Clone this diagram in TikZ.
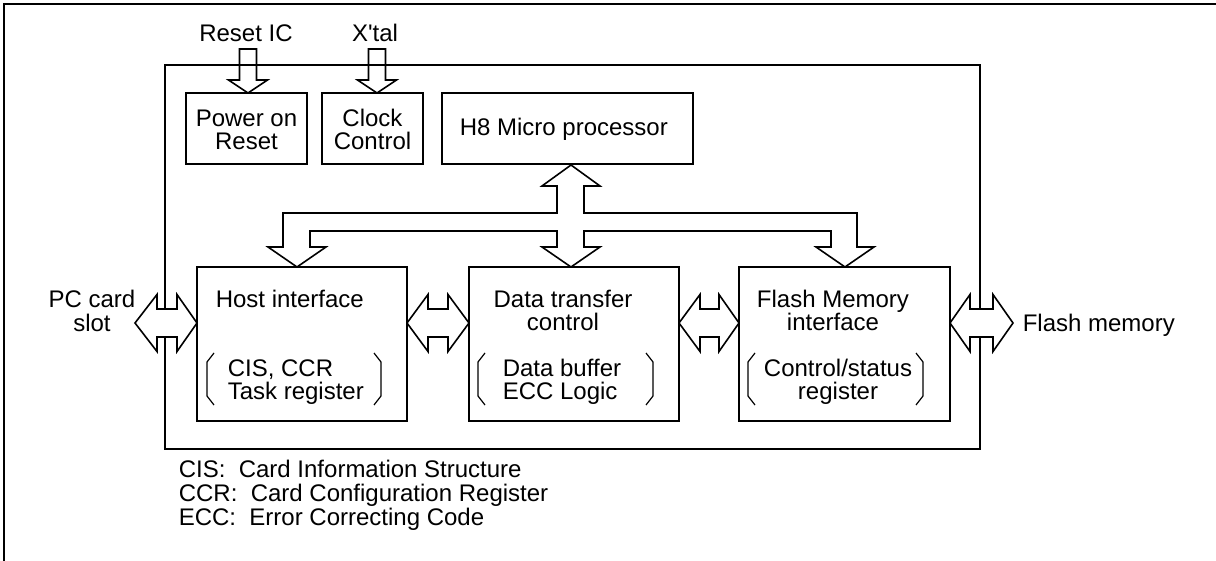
\documentclass[tikz,border=0pt]{standalone}
\usepackage{fontspec}
\setmainfont{Liberation Sans}
\usetikzlibrary{fit}
\newcommand\harrowshape[4]{% left tip, left base, right base, right tip
  \draw[blk] (#1,323) -- (#2,294.5) -- (#2,309) -- (#3,309) -- (#3,294.5) -- (#4,323)
     -- (#3,351.5) -- (#3,337) -- (#2,337) -- (#2,351.5) -- cycle;}
\newcommand\varrowshape[2]{% centre x, shaft top y
  \draw[barrow] (#1-8.5,#2) -- (#1+8.5,#2) -- (#1+8.5,80) -- (#1+19.5,80) -- (#1,93)
     -- (#1-19.5,80) -- (#1-8.5,80) -- cycle;}
\newcommand\brackets[4]{% left x, right x, top y, bottom y
  \draw[brk] (#1+7,#3) -- (#1,#3+9) -- (#1,#4-9) -- (#1+7,#4);
  \draw[brk] (#2-7,#3) -- (#2,#3+9) -- (#2,#4-9) -- (#2-7,#4);}
\begin{document}
\begin{tikzpicture}[x=0.5pt,y=-0.5pt,line width=0.8pt,line join=miter,
  box/.style={draw,inner sep=0pt,outer sep=0pt},
  blk/.style={draw,fill=white},
  barrow/.style={draw},
  brk/.style={draw,line width=0.6pt},
  lbl/.style={anchor=base,inner sep=0pt,font=\fontsize{12}{12}\selectfont},
  lblw/.style={lbl,anchor=base west}]
\useasboundingbox (0,0) rectangle (1216,561);
% outer frame
\draw (4,561) -- (4,4) -- (1216,4);
% chip frame
\node[box,fit={(165,65)(980,449)}] (chip) {};
% inner blocks
\node[box,fit={(186,93)(307,164)}] (por) {};
\node[box,fit={(322,93)(423,164)}] (clk) {};
\node[box,fit={(442,93)(693,164)}] (cpu) {};
\node[box,fit={(197,267)(407,421)}] (host) {};
\node[box,fit={(469,267)(679,421)}] (dtc) {};
\node[box,fit={(739,267)(950,421)}] (fmi) {};
% top input arrows
\varrowshape{248}{49}
\varrowshape{377}{49}
% internal bus
\draw[blk] (571,165) -- (600,186) -- (584,186) -- (584,213) -- (857,213) -- (857,247)
  -- (874,247) -- (845,267) -- (816,247) -- (831,247) -- (831,231) -- (584,231)
  -- (584,247) -- (600,247) -- (571,267) -- (542,247) -- (557,247) -- (557,231)
  -- (310,231) -- (310,247) -- (326,247) -- (297,267) -- (268,247) -- (283,247)
  -- (283,213) -- (557,213) -- (557,186) -- (542,186) -- cycle;
% horizontal double arrows
\harrowshape{135}{157}{177}{197}
\harrowshape{407}{428}{448}{469}
\harrowshape{679}{700}{719}{739}
\harrowshape{950}{970}{993}{1013}
% brackets
\brackets{207}{381}{353}{405}
\brackets{478}{653}{353}{405}
\brackets{748}{923}{353}{405}
% labels
\node[lbl] (lreset) at (246,42) {Reset IC};
\node[lbl] (lxtal) at (375,42) {X\textquotesingle tal};
\node[lbl] (tpor1) at (246.5,127) {Power on};
\node[lbl] (tpor2) at (246.5,150) {Reset};
\node[lbl] (tclk1) at (372.5,127) {Clock};
\node[lbl] (tclk2) at (372.5,150) {Control};
\node[lblw] (tcpu) at (459,136) {H8 Micro processor};
\node[lblw] (thost) at (215,307) {Host interface};
\node[lblw] (thost2) at (227,377) {CIS, CCR};
\node[lblw] (thost3) at (227,400) {Task register};
\node[lbl] (tdtc1) at (563,307) {Data transfer};
\node[lbl] (tdtc2) at (563,331) {control};
\node[lblw] (tdtc3) at (502,377) {Data buffer};
\node[lblw] (tdtc4) at (502,400) {ECC Logic};
\node[lbl] (tfmi1) at (833,307) {Flash Memory};
\node[lbl] (tfmi2) at (833,331) {interface};
\node[lbl] (tfmi3) at (838,377) {Control/status};
\node[lbl] (tfmi4) at (838,400) {register};
\node[lbl] (lpc1) at (92,308) {PC card};
\node[lbl] (lpc2) at (92,332) {slot};
\node[lblw] (lflash) at (1022,332) {Flash memory};
\node[lblw] (n1) at (178,477) {CIS:\ \ Card Information Structure};
\node[lblw] (n2) at (178,501) {CCR:\ \ Card Configuration Register};
\node[lblw] (n3) at (178,525) {ECC:\ \ Error Correcting Code};
\end{tikzpicture}
\end{document}
